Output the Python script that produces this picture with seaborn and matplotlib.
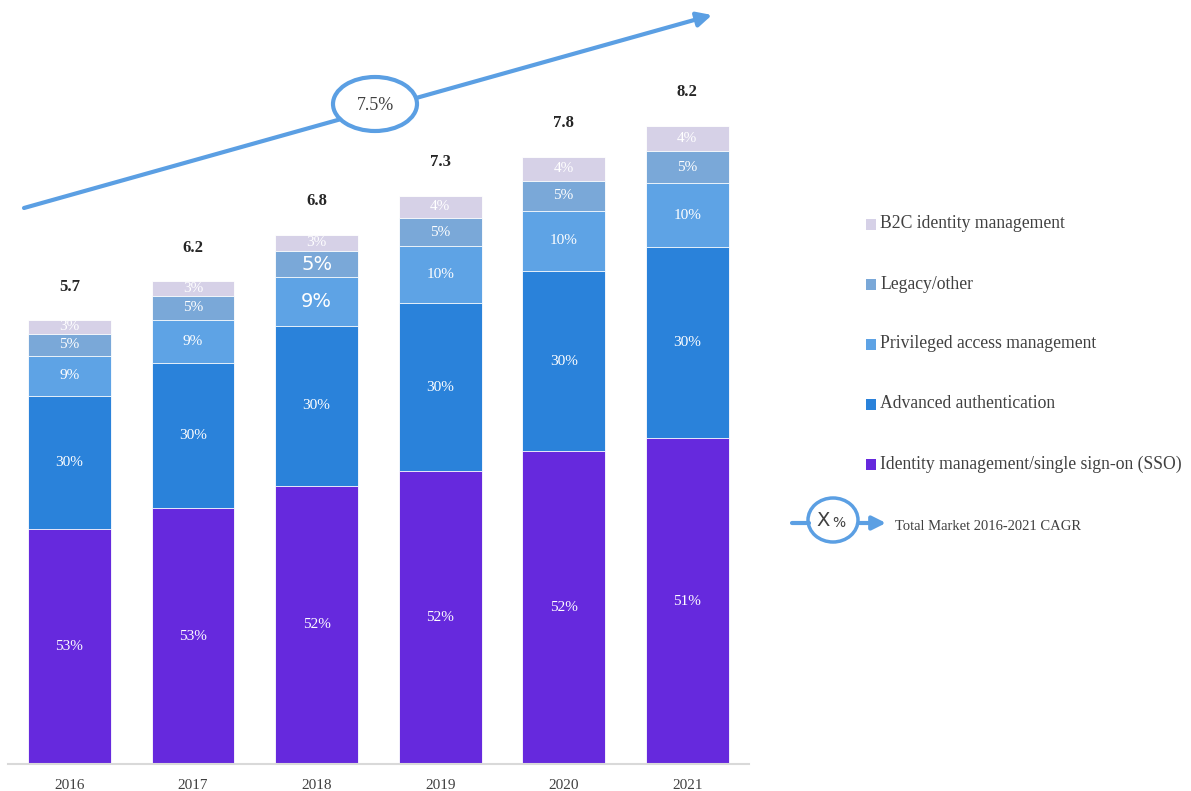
import matplotlib
matplotlib.use("Agg")
import matplotlib.pyplot as plt
from matplotlib.patches import Ellipse, Rectangle, FancyArrowPatch
import numpy as np
import pandas as pd
import seaborn as sns

# ---- data -------------------------------------------------------------
years = ["2016", "2017", "2018", "2019", "2020", "2021"]
totals = [5.7, 6.2, 6.8, 7.3, 7.8, 8.2]  # total market, $B

segments = [
    "Identity management/single sign-on (SSO)",
    "Advanced authentication",
    "Privileged access management",
    "Legacy/other",
    "B2C identity management",
]
share_sso = [53, 53, 52, 52, 52, 51]
share_adv = [30, 30, 30, 30, 30, 30]
share_pam = [9, 9, 9, 10, 10, 10]
share_legacy = [5, 5, 5, 5, 5, 5]
share_b2c = [3, 3, 3, 4, 4, 4]
cagr_label = "7.5%"

colors = ["#6629DD", "#2A82DA", "#5EA3E5", "#7AA8D8", "#D6D1E7"]

# ---- styling ----------------------------------------------------------
sns.set_theme(style="white")
plt.rcParams["font.family"] = ["Liberation Serif", "DejaVu Serif"]
text_grey = "#404040"
arrow_blue = "#5B9FE3"

fig = plt.figure(figsize=(11.91, 7.91), dpi=100)
W, H = 1191, 791


def fx(px):
    return px / W


def fy(py):
    return 1 - py / H


ax = fig.add_axes([fx(7.7), fy(764), fx(749) - fx(7.7), fy(0) - fy(764)])

shares = np.array([share_sso, share_adv, share_pam, share_legacy, share_b2c], dtype=float)
# rounded shares are rescaled so every stack reaches its column total
values = shares / shares.sum(axis=0) * np.array(totals)
cum = np.cumsum(values, axis=0)                      # stacked tops

# Draw the stacks from the top layer down so each lower layer covers the one above
bar_patches = {}
for i in reversed(range(len(segments))):
    df = pd.DataFrame({"year": years, "value": cum[i]})
    n_before = len(ax.patches)
    sns.barplot(data=df, x="year", y="value", color=colors[i], width=0.67,
                saturation=1, edgecolor="white", linewidth=0.6, ax=ax)
    bar_patches[i] = ax.patches[n_before:]

# Larger sans-serif labels used in the 2018 column
big_labels = {(2, 2), (2, 3)}

for j, yr in enumerate(years):
    for i in range(len(segments)):
        bottom = cum[i - 1][j] if i > 0 else 0.0
        mid = bottom + values[i][j] / 2
        if (j, i) in big_labels:
            t = ax.text(j, mid, f"{int(shares[i][j])}%", ha="center", va="center",
                        color="white", fontsize=14, family="DejaVu Sans")
        else:
            t = ax.text(j, mid, f"{int(shares[i][j])}%", ha="center", va="center",
                        color="white", fontsize=11)
        t.set_clip_path(bar_patches[i][j])
    ax.text(j, cum[-1][j] + 0.43, f"{totals[j]:.1f}", ha="center", va="center",
            fontsize=12, fontweight="bold", color="#262626")

ax.set_xlim(-0.5, 5.5)
ax.set_ylim(0, 764 / 77.85)
ax.set_xlabel("")
ax.set_ylabel("")
ax.set_yticks([])
ax.tick_params(axis="x", length=0, pad=11, labelsize=11, labelcolor=text_grey)
for lbl in ax.get_xticklabels():
    lbl.set_family(["Liberation Serif"])
for side in ["top", "right", "left"]:
    ax.spines[side].set_visible(False)
ax.spines["bottom"].set_color("#d9d9d9")
ax.spines["bottom"].set_linewidth(1.5)
ax.set_facecolor("none")

# ---- CAGR trend arrow --------------------------------------------------
trend = FancyArrowPatch((fx(24), fy(208)), (fx(712), fy(15)), transform=fig.transFigure,
                        arrowstyle="-|>", mutation_scale=22, lw=3, color=arrow_blue,
                        shrinkA=0, shrinkB=0)
fig.add_artist(trend)
fig.add_artist(Ellipse((fx(375), fy(104)), 84 / W, 54 / H, transform=fig.transFigure,
                       facecolor="white", edgecolor=arrow_blue, lw=3))
fig.text(fx(375), fy(106), cagr_label, ha="center", va="center", fontsize=13,
         color=text_grey)

# ---- legend ------------------------------------------------------------
legend_y = [224, 284, 344, 404, 464]
for k, i in enumerate(reversed(range(len(segments)))):
    y = legend_y[k]
    fig.add_artist(Rectangle((fx(866), fy(y + 6)), 10 / W, 11 / H, transform=fig.transFigure,
                             facecolor=colors[i], edgecolor="none"))
    fig.text(fx(880), fy(y), segments[i], ha="left", va="center", fontsize=12.7,
             color=text_grey)

# CAGR key
fig.add_artist(plt.Line2D([fx(792), fx(809)], [fy(523), fy(523)], transform=fig.transFigure,
                          color=arrow_blue, lw=3))
fig.add_artist(FancyArrowPatch((fx(858), fy(523)), (fx(886), fy(523)), transform=fig.transFigure,
                               arrowstyle="-|>", mutation_scale=20, lw=3, color=arrow_blue,
                               shrinkA=0, shrinkB=0))
fig.add_artist(Ellipse((fx(833), fy(520)), 50 / W, 44 / H, transform=fig.transFigure,
                       facecolor="white", edgecolor=arrow_blue, lw=2.5))
fig.text(fx(823), fy(521), "X", ha="center", va="center", fontsize=14,
         family="DejaVu Sans", color=text_grey)
fig.text(fx(839), fy(523), "%", ha="center", va="center", fontsize=10,
         family="DejaVu Sans", color=text_grey)
fig.text(fx(895), fy(527), "Total Market 2016-2021 CAGR", ha="left", va="center",
         fontsize=10.5, color=text_grey)

fig.savefig("out.png", dpi=100, facecolor="white")
